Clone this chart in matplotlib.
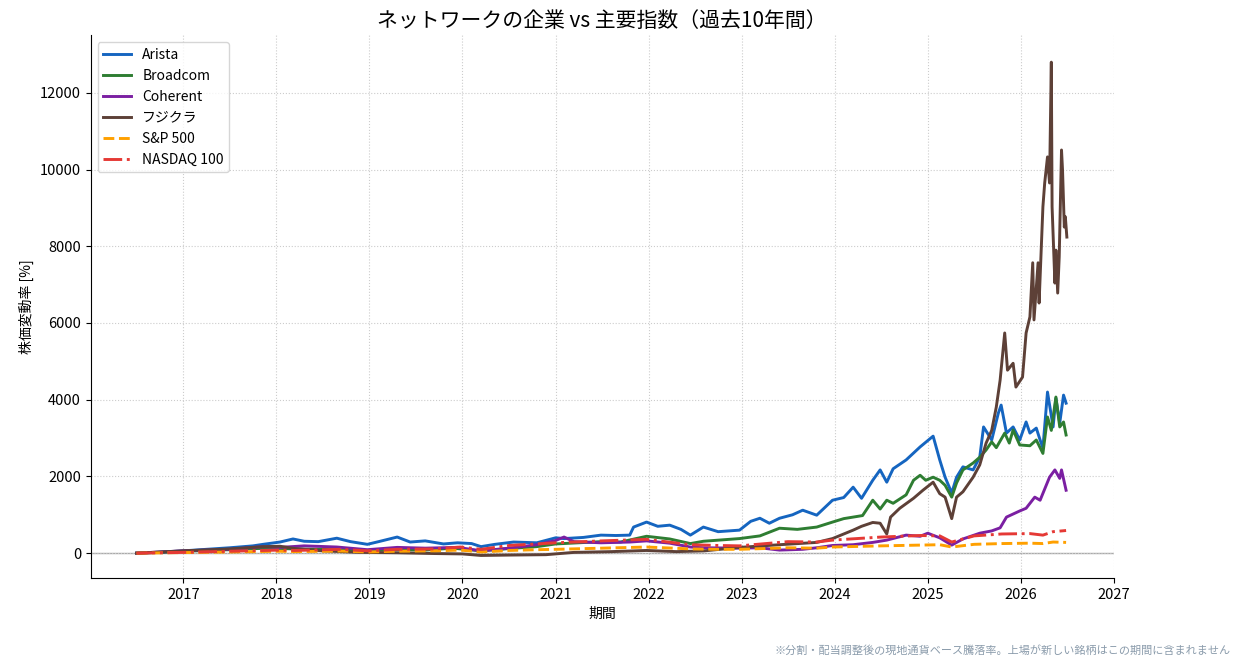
import pandas as pd
import matplotlib
matplotlib.use("Agg")
import matplotlib.pyplot as plt
import matplotlib.dates as mdates

plt.rcParams['font.family'] = ['Noto Sans CJK JP', 'DejaVu Sans']

# ---- data (% change since start) ----
arista_dates = ["2016-07-01", "2016-10-01", "2017-01-01", "2017-04-01", "2017-07-01", "2017-10-01",
                "2017-11-10", "2018-01-15", "2018-03-07", "2018-04-20", "2018-06-14", "2018-08-26",
                "2018-10-19", "2018-12-24", "2019-02-06", "2019-04-20", "2019-06-10", "2019-08-08",
                "2019-10-19", "2019-12-13", "2020-02-06", "2020-03-14", "2020-05-08", "2020-07-20",
                "2020-10-19", "2021-01-01", "2021-02-03", "2021-04-20", "2021-06-28", "2021-08-26",
                "2021-10-19", "2021-11-03", "2021-12-24", "2022-02-06", "2022-03-25", "2022-05-08",
                "2022-06-14", "2022-08-04", "2022-10-01", "2022-12-24", "2023-02-06", "2023-03-14",
                "2023-04-20", "2023-05-30", "2023-07-20", "2023-08-29", "2023-10-23", "2023-12-24",
                "2024-02-06", "2024-03-14", "2024-04-16", "2024-05-30", "2024-06-28", "2024-07-24",
                "2024-08-18", "2024-10-08", "2024-12-02", "2025-01-22", "2025-02-17", "2025-03-10",
                "2025-04-05", "2025-04-24", "2025-05-19", "2025-06-28", "2025-07-24", "2025-08-08",
                "2025-09-09", "2025-10-05", "2025-10-16", "2025-11-06", "2025-12-02", "2025-12-28",
                "2026-01-22", "2026-02-06", "2026-03-03", "2026-03-18", "2026-03-29", "2026-04-16",
                "2026-05-08", "2026-05-19", "2026-06-03", "2026-06-18", "2026-06-28"]
arista_pct = [0, 25, 60, 100, 140, 190,
              230, 290, 370, 310, 300, 390,
              300, 230, 300, 420, 290, 320,
              240, 270, 250, 170, 230, 290,
              270, 400, 380, 410, 470, 460,
              470, 680, 810, 700, 730, 620,
              470, 680, 560, 600, 830, 910,
              780, 910, 1000, 1120, 990, 1380,
              1450, 1720, 1430, 1900, 2170, 1850,
              2200, 2430, 2770, 3050, 2430, 1980,
              1570, 1980, 2250, 2170, 2500, 3290,
              2950, 3650, 3860, 3130, 3290, 2950,
              3420, 3130, 3260, 2950, 2740, 4200,
              3290, 4040, 3390, 4120, 3910]

broadcom_dates = ["2016-07-01", "2016-10-01", "2017-01-01", "2017-07-01", "2017-11-24", "2018-03-14",
                  "2018-07-02", "2018-11-24", "2019-04-20", "2019-08-08", "2019-11-24", "2020-03-14",
                  "2020-07-02", "2020-10-19", "2021-01-01", "2021-06-28", "2021-09-13", "2021-12-24",
                  "2022-03-25", "2022-06-14", "2022-08-04", "2022-12-24", "2023-03-14", "2023-05-30",
                  "2023-08-08", "2023-10-23", "2023-12-24", "2024-02-06", "2024-04-20", "2024-05-30",
                  "2024-06-28", "2024-07-24", "2024-08-18", "2024-10-08", "2024-11-06", "2024-12-02",
                  "2024-12-24", "2025-01-22", "2025-02-17", "2025-03-10", "2025-04-05", "2025-04-24",
                  "2025-05-19", "2025-06-28", "2025-07-24", "2025-08-18", "2025-09-09", "2025-09-27",
                  "2025-10-30", "2025-11-17", "2025-12-02", "2025-12-28", "2026-02-06", "2026-03-03",
                  "2026-03-29", "2026-04-16", "2026-05-01", "2026-05-19", "2026-06-03", "2026-06-18",
                  "2026-06-28"]
broadcom_pct = [0, 20, 50, 90, 130, 110,
                100, 60, 90, 80, 130, 60,
                120, 170, 240, 300, 290, 440,
                370, 250, 310, 380, 450, 650,
                620, 680, 810, 900, 980, 1380,
                1150, 1380, 1300, 1520, 1900, 2030,
                1900, 1980, 1900, 1770, 1460, 1830,
                2170, 2350, 2500, 2690, 2900, 2750,
                3130, 2870, 3210, 2820, 2800, 2950,
                2600, 3550, 3200, 4070, 3290, 3420,
                3080]

coherent_dates = ["2016-07-01", "2016-10-01", "2017-01-01", "2017-07-01", "2017-11-10", "2018-01-15",
                  "2018-04-20", "2018-08-26", "2018-12-24", "2019-04-20", "2019-08-08", "2019-12-13",
                  "2020-03-14", "2020-07-02", "2020-10-19", "2021-01-01", "2021-02-03", "2021-03-14",
                  "2021-06-28", "2021-10-19", "2021-12-24", "2022-03-25", "2022-06-14", "2022-08-04",
                  "2022-12-24", "2023-03-14", "2023-05-30", "2023-08-29", "2023-10-23", "2023-12-24",
                  "2024-03-14", "2024-05-30", "2024-07-24", "2024-10-08", "2024-12-02", "2025-01-01",
                  "2025-02-17", "2025-04-05", "2025-05-19", "2025-07-24", "2025-09-09", "2025-10-12",
                  "2025-11-06", "2025-12-28", "2026-01-22", "2026-02-25", "2026-03-18", "2026-04-24",
                  "2026-05-15", "2026-06-03", "2026-06-10", "2026-06-28"]
coherent_pct = [0, 30, 60, 100, 170, 150,
                190, 160, 90, 150, 130, 150,
                60, 130, 220, 330, 420, 300,
                270, 290, 320, 260, 160, 140,
                130, 140, 80, 100, 140, 200,
                220, 280, 340, 470, 440, 520,
                400, 210, 370, 520, 580, 660,
                940, 1100, 1170, 1460, 1380, 1980,
                2170, 1950, 2170, 1640]

fujikura_dates = ["2016-07-01", "2016-10-01", "2017-01-01", "2017-07-01", "2017-11-10", "2018-01-15",
                  "2018-03-14", "2018-07-02", "2018-11-24", "2019-04-20", "2019-09-13", "2020-01-01",
                  "2020-03-14", "2020-07-02", "2020-11-24", "2021-03-14", "2021-08-08", "2021-12-24",
                  "2022-04-20", "2022-08-08", "2022-12-24", "2023-05-30", "2023-10-23", "2023-12-24",
                  "2024-03-14", "2024-04-16", "2024-05-30", "2024-06-28", "2024-07-24", "2024-08-08",
                  "2024-09-13", "2024-11-06", "2024-12-13", "2025-01-22", "2025-02-17", "2025-03-10",
                  "2025-04-05", "2025-04-24", "2025-05-19", "2025-06-28", "2025-07-24", "2025-08-18",
                  "2025-09-09", "2025-09-27", "2025-10-12", "2025-10-30", "2025-11-10", "2025-12-02",
                  "2025-12-13", "2026-01-08", "2026-01-22", "2026-02-06", "2026-02-17", "2026-02-22",
                  "2026-03-10", "2026-03-14", "2026-03-29", "2026-04-05", "2026-04-16", "2026-04-24",
                  "2026-05-01", "2026-05-04", "2026-05-15", "2026-05-19", "2026-05-26", "2026-06-01",
                  "2026-06-10", "2026-06-14", "2026-06-21", "2026-06-25", "2026-07-01"]
fujikura_pct = [0, 30, 60, 110, 170, 180,
                120, 60, 20, 10, -10, -20,
                -60, -50, -40, 20, 40, 70,
                40, 60, 150, 220, 280, 380,
                600, 700, 800, 780, 500, 940,
                1170, 1430, 1640, 1850, 1550, 1460,
                900, 1460, 1600, 1980, 2300, 2870,
                3200, 3810, 4510, 5740, 4770, 4950,
                4330, 4590, 5740, 6160, 7570, 6080,
                7570, 6520, 9030, 9650, 10330, 9650,
                12800, 9030, 7040, 7900, 6780, 7720,
                10510, 9990, 8500, 8770, 8240]

sp500_dates = ["2016-07-01", "2017-01-01", "2017-07-01", "2018-01-15", "2018-03-14", "2018-09-13",
               "2018-12-24", "2019-04-20", "2019-09-13", "2019-12-24", "2020-03-14", "2020-07-02",
               "2020-10-19", "2021-01-01", "2021-07-02", "2021-12-24", "2022-06-14", "2022-10-01",
               "2022-12-24", "2023-07-02", "2023-10-23", "2023-12-24", "2024-07-02", "2024-12-02",
               "2025-02-17", "2025-04-05", "2025-07-02", "2025-10-19", "2026-02-06", "2026-03-29",
               "2026-05-08", "2026-06-28"]
sp500_pct = [0, 15, 30, 50, 40, 55,
             30, 50, 60, 80, 30, 70,
             90, 100, 130, 160, 110, 100,
             100, 140, 130, 160, 190, 210,
             220, 160, 230, 250, 260, 250,
             290, 280]

nasdaq_dates = sp500_dates
nasdaq_pct = [0, 20, 50, 80, 70, 100,
              60, 100, 110, 160, 100, 200,
              240, 270, 320, 360, 220, 200,
              190, 300, 290, 340, 420, 460,
              450, 290, 450, 500, 510, 470,
              560, 590]

names = ["Arista", "Broadcom", "Coherent", "フジクラ", "S&P 500", "NASDAQ 100"]
colors = ["#1565C0", "#2E7D32", "#7B1FA2", "#5D4037", "#FFA000", "#E53935"]
styles = ["-", "-", "-", "-", "--", "-."]
year_ticks = [str(y) for y in range(2017, 2028)]

series = [(arista_dates, arista_pct), (broadcom_dates, broadcom_pct),
          (coherent_dates, coherent_pct), (fujikura_dates, fujikura_pct),
          (sp500_dates, sp500_pct), (nasdaq_dates, nasdaq_pct)]

fig, ax = plt.subplots(figsize=(12.43, 6.66), dpi=100)
fig.subplots_adjust(left=0.073, right=0.896, top=0.947, bottom=0.132)

for (d, v), name, c, ls in zip(series, names, colors, styles):
    ax.plot(pd.to_datetime(d), v, color=c, linestyle=ls, linewidth=2.1, label=name)

ax.axhline(0, color="#aaaaaa", linewidth=1, zorder=0)

ax.set_xticks(pd.to_datetime([y + "-01-01" for y in year_ticks]))
ax.xaxis.set_major_formatter(mdates.DateFormatter("%Y"))
ax.set_xlim(pd.Timestamp("2016-01-03"), pd.Timestamp("2027-01-01"))
ax.set_ylim(-650, 13500)

ax.grid(True, linestyle=":", color="#cccccc", linewidth=0.8)
ax.spines["top"].set_visible(False)
ax.spines["right"].set_visible(False)

ax.set_title("ネットワークの企業 vs 主要指数（過去10年間）", fontsize=15)
ax.set_xlabel("期間", fontsize=10)
ax.set_ylabel("株価変動率 [%]", fontsize=10)
ax.tick_params(labelsize=10.5)
ax.legend(loc="upper left", fontsize=10)

fig.text(0.99, 0.018, "※分割・配当調整後の現地通貨ベース騰落率。上場が新しい銘柄はこの期間に含まれません",
         ha="right", fontsize=8, color="#8a9bab")

fig.savefig("out.png", dpi=100)
